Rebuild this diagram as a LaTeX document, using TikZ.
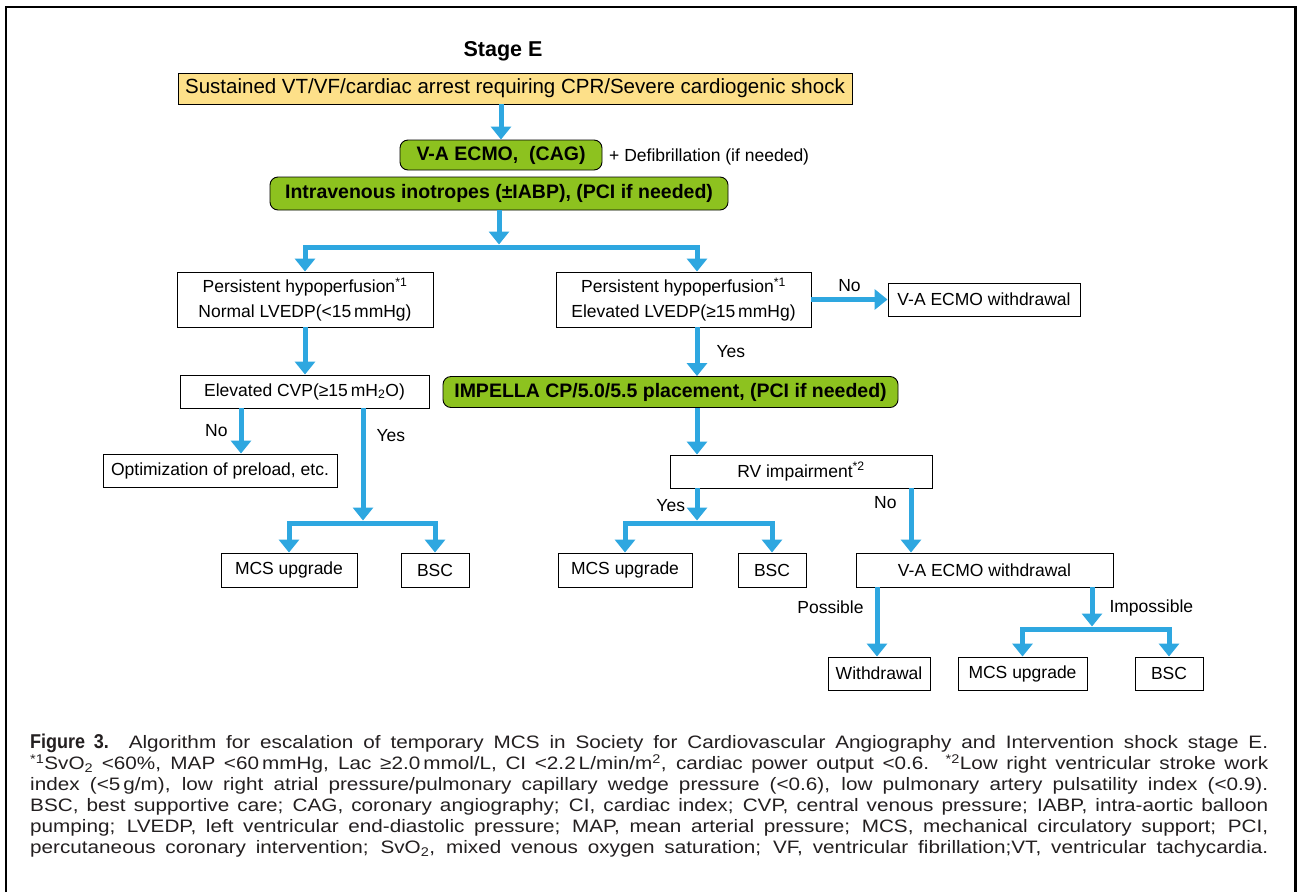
\documentclass[tikz,border=0pt]{standalone}
\usepackage{fontspec}
\setmainfont{Liberation Sans}
\newfontfamily\capfont[FakeStretch=1.15]{Liberation Sans}
\newfontfamily\figfont[FakeStretch=0.9]{Liberation Sans}
\usetikzlibrary{arrows.meta}

\definecolor{ccblue}{RGB}{46,167,224}
\definecolor{ccgreen}{RGB}{141,194,31}
\definecolor{ccyellow}{RGB}{253,224,137}
\definecolor{cctext}{RGB}{35,31,32}

\newlength{\capw}
\setlength{\capw}{1238pt}
\newcommand{\capline}[1]{\makebox[\capw][s]{#1}}

\begin{document}
\begin{tikzpicture}[x=1pt,y=-1pt,
  box/.style={draw, line width=0.9pt, inner sep=0pt, align=center,
    font=\fontsize{17.5}{25}\selectfont},
  greenbox/.style={box, fill=ccgreen, rounded corners=8pt,
    font=\fontsize{19.5}{22}\selectfont\bfseries},
  flow/.style={ccblue, line width=5pt, -{Triangle[width=20pt,length=13pt]}},
  lbl/.style={text=black, font=\fontsize{17.5}{20}\selectfont, inner sep=0pt}]

  \useasboundingbox (0,0) rectangle (1297,892);

  % Frame
  \draw[line width=2.5pt] (6,892) -- (6,7) -- (1295.5,7) -- (1295.5,892);

  % Top
  \node[font=\fontsize{21.5}{24}\selectfont\bfseries] (title) at (503,51) {Stage E};
  \node[box, fill=ccyellow, minimum width=674pt, minimum height=31pt,
    font=\fontsize{20.5}{22}\selectfont] (sus) at (515,88.5)
    {Sustained VT/VF/cardiac arrest requiring CPR/Severe cardiogenic shock};
  \node[greenbox, minimum width=202pt, minimum height=30pt] (ecmo) at (501,155) {V-A ECMO,\ \ (CAG)};
  \node[lbl, anchor=west] (defib) at (609,157) {+ Defibrillation (if needed)};
  \node[greenbox, minimum width=458pt, minimum height=33pt] (ino) at (499,193.5)
    {Intravenous inotropes (±IABP), (PCI if needed)};

  % Second level
  \node[box, minimum width=256pt, minimum height=55pt] (hpL) at (305,299.5)
    {Persistent hypoperfusion\textsuperscript{*1}\\Normal LVEDP(<15\,mmHg)};
  \node[box, minimum width=255pt, minimum height=55pt] (hpR) at (683.5,299.5)
    {Persistent hypoperfusion\textsuperscript{*1}\\Elevated LVEDP(≥15\,mmHg)};
  \node[box, minimum width=192pt, minimum height=33pt] (wdTop) at (984,299.5) {V-A ECMO withdrawal};
  \node[box, minimum width=249pt, minimum height=33pt] (cvp) at (304.5,391.5) {Elevated CVP(≥15\,mH\textsubscript{2}O)};
  \node[greenbox, minimum width=455pt, minimum height=31pt] (impella) at (670.5,392)
    {IMPELLA CP/5.0/5.5 placement, (PCI if needed)};
  \node[box, minimum width=234pt, minimum height=33pt] (opt) at (220,470.5) {Optimization of preload, etc.};
  \node[box, minimum width=262pt, minimum height=33pt] (rv) at (801,471.5) {RV impairment\textsuperscript{*2}};

  % Bottom rows
  \node[box, minimum width=136pt, minimum height=34pt] (mcsL) at (289,570) {MCS upgrade};
  \node[box, minimum width=68pt, minimum height=34pt] (bscL) at (435,570) {BSC};
  \node[box, minimum width=134pt, minimum height=34pt] (mcsM) at (625,570) {MCS upgrade};
  \node[box, minimum width=68pt, minimum height=34pt] (bscM) at (772,570) {BSC};
  \node[box, minimum width=257pt, minimum height=34pt] (wdLow) at (984.5,570) {V-A ECMO withdrawal};
  \node[box, minimum width=102pt, minimum height=33pt] (wd) at (879,673.5) {Withdrawal};
  \node[box, minimum width=129pt, minimum height=33pt] (mcsR) at (1022.5,673.5) {MCS upgrade};
  \node[box, minimum width=68pt, minimum height=33pt] (bscR) at (1169,673.5) {BSC};

  % Split points and columns
  \coordinate (sp1) at (499,247);
  \coordinate (sp2) at (363,523);
  \coordinate (sp3) at (697,523);
  \coordinate (sp4) at (1092,629);
  \coordinate (cNo) at (241,0);
  \coordinate (cR) at (697,0);
  \coordinate (cRno) at (911,0);
  \coordinate (cPos) at (877,0);

  % Arrows
  \draw[flow] (sus.south -| ecmo) -- (ecmo);
  \draw[flow, shorten >=2.5pt] (ino) -- (sp1);
  \draw[flow] (sp1) -| (hpL);
  \draw[flow] (sp1) -| (hpR.north -| cR);
  \draw[flow] (hpR) -- (wdTop) node[lbl, midway, above=5pt] (noTop) {No};
  \draw[flow] (hpR.south -| cR) -- (impella.north -| cR) node[lbl, midway, right=17pt] (yesR) {Yes};
  \draw[flow] (hpL) -- (cvp.north -| hpL);
  \draw[flow] (cvp.south -| cNo) -- (opt.north -| cNo) node[lbl, midway, left=11pt] (noL) {No};
  \draw[flow, shorten >=2.5pt] (cvp.south -| sp2) -- (sp2) node[lbl, pos=0.24, right=11pt] (yesL) {Yes};
  \draw[flow] (sp2) -| (mcsL);
  \draw[flow] (sp2) -| (bscL);
  \draw[flow] (impella.south -| cR) -- (rv.north -| cR);
  \draw[flow, shorten >=2.5pt] (rv.south -| cR) -- (sp3) node[lbl, midway, left=9.5pt] (yesM) {Yes};
  \draw[flow] (sp3) -| (mcsM);
  \draw[flow] (sp3) -| (bscM);
  \draw[flow] (rv.south -| cRno) -- (wdLow.north -| cRno) node[lbl, pos=0.22, left=12pt] (noM) {No};
  \draw[flow] (wdLow.south -| cPos) -- (wd.north -| cPos) node[lbl, pos=0.29, left=11pt] (posL) {Possible};
  \draw[flow, shorten >=2.5pt] (wdLow.south -| sp4) -- (sp4) node[lbl, midway, right=15pt] (impL) {Impossible};
  \draw[flow] (sp4) -| (mcsR);
  \draw[flow] (sp4) -| (bscR);

  % Caption
  \node[anchor=north west, inner sep=0pt, align=left, text=cctext,
    font=\capfont\fontsize{18}{21}\selectfont] (caption) at (30,734) {%
    \capline{{\figfont\bfseries\fontsize{20}{21}\selectfont Figure 3.}\hspace{20pt}Algorithm for escalation of temporary MCS in Society for Cardiovascular Angiography and Intervention shock stage E.}\\
    \capline{\textsuperscript{*1}SvO\textsubscript{2} <60\%, MAP <60\,mmHg, Lac ≥2.0\,mmol/L, CI <2.2\,L/min/m\textsuperscript{2}, cardiac power output <0.6. \textsuperscript{*2}Low right ventricular stroke work}\\
    \capline{index (<5\,g/m), low right atrial pressure/pulmonary capillary wedge pressure (<0.6), low pulmonary artery pulsatility index (<0.9).}\\
    \capline{BSC, best supportive care; CAG, coronary angiography; CI, cardiac index; CVP, central venous pressure; IABP, intra-aortic balloon}\\
    \capline{pumping; LVEDP, left ventricular end-diastolic pressure; MAP, mean arterial pressure; MCS, mechanical circulatory support; PCI,}\\
    \capline{percutaneous coronary intervention; SvO\textsubscript{2}, mixed venous oxygen saturation; VF, ventricular fibrillation;VT, ventricular tachycardia.}};

\end{tikzpicture}
\end{document}
